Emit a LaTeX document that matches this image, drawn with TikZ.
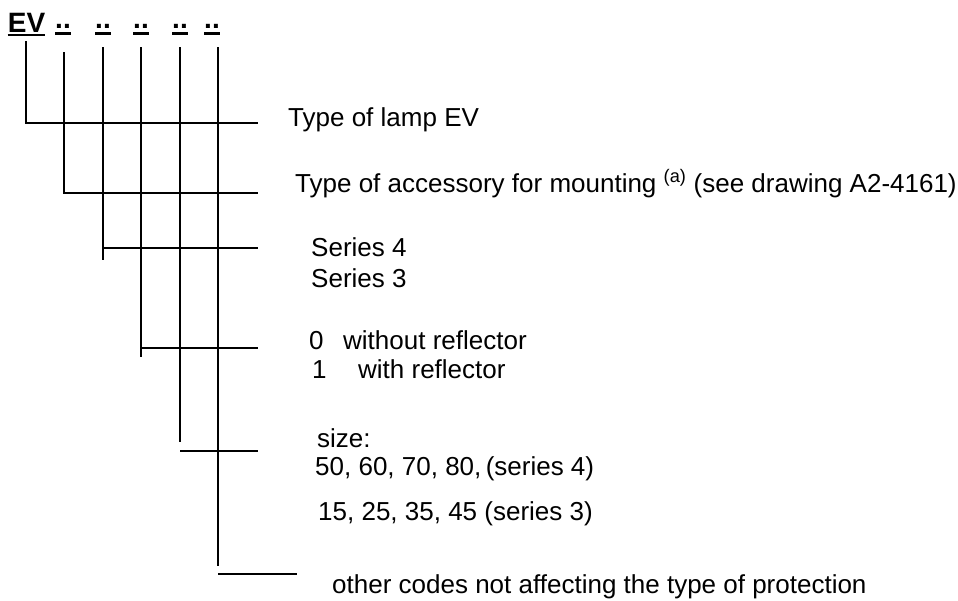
\documentclass[tikz,border=0pt]{standalone}
\usepackage{fontspec}
\setmainfont{Liberation Sans}
\begin{document}
\begin{tikzpicture}[x=1pt,y=-1pt,
  ln/.style={line width=2pt,line cap=butt},
  uline/.style={line width=2.4pt},
  lbl/.style={anchor=base west,inner sep=0pt,font=\fontsize{26}{30}\selectfont},
  code/.style={anchor=base,inner sep=0pt,font=\fontsize{28}{32}\selectfont\bfseries}]
\useasboundingbox (0,0) rectangle (958,600);
% header
\node[code] (ev) at (26.5,32) {EV};
\node[code] (c1) at (63,28) {..};
\node[code] (c2) at (103,28) {..};
\node[code] (c3) at (141,28) {..};
\node[code] (c4) at (180,28) {..};
\node[code] (c5) at (212,28) {..};
\draw[uline] ([yshift=-3]ev.base west) -- ([yshift=-3]ev.base east);
\foreach \c in {c1,c2,c3,c4,c5}
  \draw[uline] ([yshift=-5.5]\c.base west) -- ([yshift=-5.5]\c.base east);
% coordinates
\coordinate (t1) at (26,41);   \coordinate (e1) at (258,123);
\coordinate (t2) at (64,52);   \coordinate (e2) at (258,193);
\coordinate (t3) at (103,47);  \coordinate (b3) at (103,260); \coordinate (e3) at (258,248);
\coordinate (t4) at (141,47);  \coordinate (b4) at (141,357); \coordinate (e4) at (258,348);
\coordinate (t5) at (180,47);  \coordinate (b5) at (180,442); \coordinate (s5) at (180,451); \coordinate (e5) at (258,451);
\coordinate (t6) at (218,47);  \coordinate (b6) at (218,566); \coordinate (s6) at (218,574); \coordinate (e6) at (297,574);
% connectors
\draw[ln] (t1) |- (e1);
\draw[ln] (t2) |- (e2);
\draw[ln] (t3) -- (b3);
\draw[ln] (t3 |- e3) -- (e3);
\draw[ln] (t4) -- (b4);
\draw[ln] (t4 |- e4) -- (e4);
\draw[ln] (t5) -- (b5);
\draw[ln] (s5) -- (e5);
\draw[ln] (t6) -- (b6);
\draw[ln] (s6) -- (e6);
% labels
\node[lbl] (l1) at (288,126) {Type of lamp EV};
\node[lbl] (l2) at (295,192) {Type of accessory for mounting \textsuperscript{(a)} (see drawing A2-4161)};
\node[lbl] (l3a) at (311,256) {Series 4};
\node[lbl] (l3b) at (311,287) {Series 3};
\node[lbl] (l4a) at (309,349) {0};
\node[lbl] (l4at) at (343,349) {without reflector};
\node[lbl] (l4b) at (312,378) {1};
\node[lbl] (l4bt) at (358,378) {with reflector};
\node[lbl] (l5a) at (317,447) {size:};
\node[lbl] (l5b) at (315,475) {50, 60, 70, 80,\,(series 4)};
\node[lbl] (l5c) at (318,520) {15, 25, 35, 45 (series 3)};
\node[lbl] (l6) at (332,593) {other codes not affecting the type of protection};
\end{tikzpicture}
\end{document}
